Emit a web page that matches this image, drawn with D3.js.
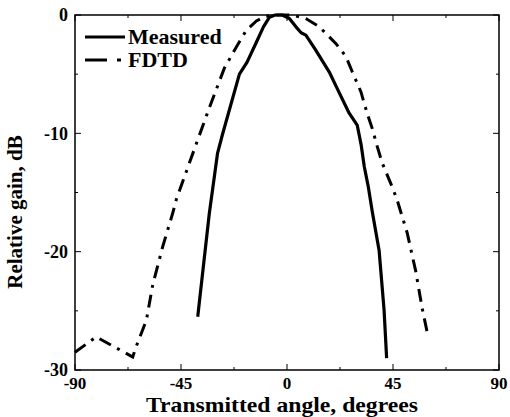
<!DOCTYPE html>
<html>
<head>
<meta charset="utf-8">
<script src="https://cdn.jsdelivr.net/npm/d3@7"></script>
<style>
  body { margin: 0; background: #fff; }
  text { font-family: "Liberation Serif", "Times New Roman", serif; font-weight: bold; fill: #000; }
</style>
</head>
<body>
<div id="chart"></div>
<script>
// Measured pattern (solid)
const measuredAngle = [-37.9, -33, -29.5, -27.4, -20.2, -17, -13, -10, -7.5, -5, -2, 1, 3.8, 6, 8, 12, 17.9, 22, 26.4, 29.8, 31.5, 32.8, 34.5, 36.1, 39.1, 41.2, 42.3];
const measuredGain  = [-25.5, -16.8, -11.7, -10.1, -5.0, -4.0, -2.3, -1.0, -0.2, 0, 0, -0.3, -1.0, -1.5, -1.7, -2.9, -4.8, -6.5, -8.3, -9.3, -11, -12.8, -14.5, -16.5, -19.9, -24.9, -29];

// FDTD pattern (dash-dot)
const fdtdAngle = [-90, -81, -65.5, -64, -59.7, -57, -52.8, -48.6, -47, -38, -32.9, -26.6, -21.5, -17.3, -13, -8.9, -4, 2, 8, 13.7, 20.7, 25, 27.7, 31.4, 34, 36.2, 38.3, 40.4, 44.6, 46.7, 51, 54.6, 57.4, 59.5];
const fdtdGain  = [-28.5, -27.2, -28.9, -28, -25.8, -22.8, -19.6, -16.8, -15.6, -10.6, -7.8, -4.5, -2.7, -1.3, -0.5, -0.1, 0, 0, -0.3, -1.0, -2.4, -3.5, -4.8, -6.5, -8.3, -9.6, -11.1, -12.5, -14.5, -15.6, -18.4, -21.6, -24.8, -26.8];

const xTickValues = [-90, -45, 0, 45, 90];
const xMinorTicks = [-67.5, -22.5, 22.5, 67.5];
const yTickValues = [0, -10, -20, -30];
const yMinorTicks = [-5, -15, -25];

const seriesNames = ["Measured", "FDTD"];

const width = 510, height = 417;
const margin = { top: 15, right: 11, bottom: 47, left: 75 };
const innerW = width - margin.left - margin.right;
const innerH = height - margin.top - margin.bottom;

const svg = d3.select("#chart").append("svg")
  .attr("width", width)
  .attr("height", height)
  .style("background", "#fff");

const g = svg.append("g").attr("transform", `translate(${margin.left},${margin.top})`);

const x = d3.scaleLinear().domain([-90, 90]).range([0, innerW]);
const y = d3.scaleLinear().domain([-30, 0]).range([innerH, 0]);

// inward ticks on all four sides
function drawTicks(axis, values, len) {
  if (axis === "x") {
    g.selectAll(null).data(values).join("line")
      .attr("x1", d => x(d)).attr("x2", d => x(d))
      .attr("y1", innerH).attr("y2", innerH - len)
      .attr("stroke", "#000").attr("stroke-width", 1);
    g.selectAll(null).data(values).join("line")
      .attr("x1", d => x(d)).attr("x2", d => x(d))
      .attr("y1", 0).attr("y2", len)
      .attr("stroke", "#000").attr("stroke-width", 1);
  } else {
    g.selectAll(null).data(values).join("line")
      .attr("y1", d => y(d)).attr("y2", d => y(d))
      .attr("x1", 0).attr("x2", len)
      .attr("stroke", "#000").attr("stroke-width", 1);
    g.selectAll(null).data(values).join("line")
      .attr("y1", d => y(d)).attr("y2", d => y(d))
      .attr("x1", innerW).attr("x2", innerW - len)
      .attr("stroke", "#000").attr("stroke-width", 1);
  }
}
drawTicks("x", xTickValues, 6);
drawTicks("x", xMinorTicks, 3);
drawTicks("y", yTickValues, 6);
drawTicks("y", yMinorTicks, 3);

// frame
g.append("rect")
  .attr("width", innerW).attr("height", innerH)
  .attr("fill", "none").attr("stroke", "#000").attr("stroke-width", 1.5);

// tick labels
g.selectAll("text.xtick").data(xTickValues).join("text")
  .attr("class", "xtick")
  .attr("x", d => x(d))
  .attr("y", innerH + 19)
  .attr("text-anchor", "middle")
  .style("font-size", "17px")
  .text(d => d);

g.selectAll("text.ytick").data(yTickValues).join("text")
  .attr("class", "ytick")
  .attr("x", -7)
  .attr("y", d => y(d))
  .attr("dy", "0.35em")
  .attr("text-anchor", "end")
  .style("font-size", "18px")
  .text(d => d);

// axis titles
g.append("text")
  .attr("x", innerW / 2 - 5)
  .attr("y", innerH + 42)
  .attr("text-anchor", "middle")
  .attr("textLength", 272)
  .attr("lengthAdjust", "spacingAndGlyphs")
  .style("font-size", "21px")
  .text("Transmitted angle, degrees");

g.append("text")
  .attr("transform", `translate(${-53},${197}) rotate(-90)`)
  .attr("text-anchor", "middle")
  .style("font-size", "21px")
  .text("Relative gain, dB");

// curves
const line = d3.line().x(d => x(d[0])).y(d => y(d[1]));
const measured = measuredAngle.map((a, i) => [a, measuredGain[i]]);
const fdtd = fdtdAngle.map((a, i) => [a, fdtdGain[i]]);

g.append("path").datum(fdtd)
  .attr("d", line)
  .attr("fill", "none").attr("stroke", "#000").attr("stroke-width", 3)
  .attr("stroke-dasharray", "13,7,3,7");

g.append("path").datum(measured)
  .attr("d", line)
  .attr("fill", "none").attr("stroke", "#000").attr("stroke-width", 3.2)
  .attr("stroke-linejoin", "round");

// legend
const legend = g.append("g").attr("transform", "translate(10,22)");
seriesNames.forEach((name, i) => {
  const row = legend.append("g").attr("transform", `translate(0,${i * 23})`);
  row.append("line")
    .attr("x1", 0).attr("x2", i === 0 ? 40 : 37)
    .attr("y1", 0).attr("y2", 0)
    .attr("stroke", "#000").attr("stroke-width", 3)
    .attr("stroke-dasharray", i === 0 ? null : "22,10,4,10");
  row.append("text")
    .attr("x", 43).attr("y", 0).attr("dy", "0.33em")
    .style("font-size", "22px")
    .text(name);
});
</script>
</body>
</html>
